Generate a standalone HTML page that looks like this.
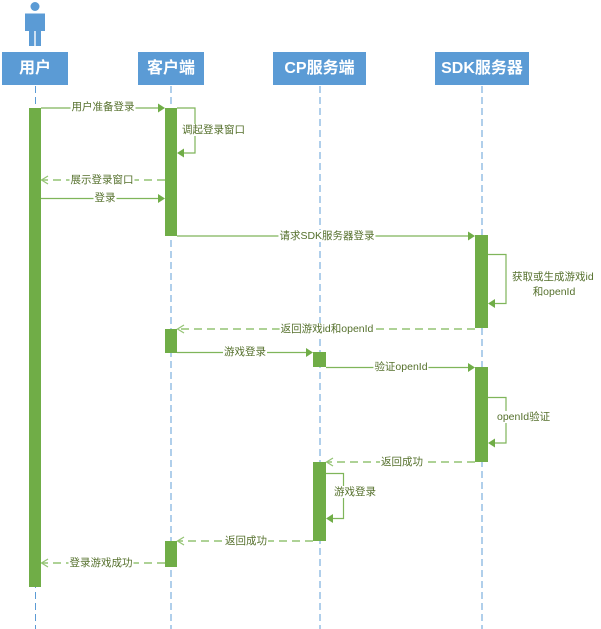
<!DOCTYPE html>
<html><head><meta charset="utf-8">
<style>
html,body{margin:0;padding:0;background:#fff;}
#wrap{position:relative;width:601px;height:629px;overflow:hidden;background:#fff;}
svg{position:absolute;left:0;top:0;}
.l{position:absolute;font-family:"Liberation Sans","Noto Sans CJK SC",sans-serif;font-size:10.5px;line-height:12px;color:#55702c;background:#fff;white-space:nowrap;padding:0 1px;transform:translate(-50%,-50%);}
.ll{transform:translate(0,-50%);}
.h{position:absolute;height:33px;background:#5b9bd5;color:#fff;font-family:"Liberation Sans","Noto Sans CJK SC",sans-serif;font-weight:bold;font-size:16px;line-height:33px;text-align:center;}
</style></head><body><div id="wrap">
<svg width="601" height="629" viewBox="0 0 601 629">
  <!-- actor -->
  <circle cx="35" cy="6.5" r="4.5" fill="#5b9bd5"/>
  <path d="M25 13.5 H45 V31 H41 V46 H35.7 V31 H34.3 V46 H29 V31 H25 Z" fill="#5b9bd5"/>
  <!-- lifelines -->
  <g stroke-dasharray="7 4" fill="none">
    <line x1="35.5" y1="86" x2="35.5" y2="629" stroke="#5b9bd5" stroke-width="1"/>
    <line x1="171" y1="86" x2="171" y2="629" stroke="#9dc3e6" stroke-width="1.6"/>
    <line x1="320" y1="86" x2="320" y2="629" stroke="#9dc3e6" stroke-width="1.6"/>
    <line x1="482" y1="86" x2="482" y2="629" stroke="#9dc3e6" stroke-width="1.6"/>
  </g>
  <!-- solid messages -->
  <g stroke="#7fb55a" stroke-width="1.2" fill="none">
    <line x1="41" y1="108" x2="160" y2="108"/>
    <polyline points="177,108 195,108 195,153 183,153"/>
    <line x1="41" y1="198.5" x2="160" y2="198.5"/>
    <line x1="177" y1="236" x2="470" y2="236"/>
    <polyline points="488,254.5 506,254.5 506,303.5 494,303.5"/>
    <line x1="177" y1="352.5" x2="308" y2="352.5"/>
    <line x1="326" y1="367.5" x2="470" y2="367.5"/>
    <polyline points="488,397.5 506,397.5 506,443 494,443"/>
    <polyline points="326,473.5 343.5,473.5 343.5,518.5 332,518.5"/>
  </g>
  <!-- dashed messages -->
  <g stroke="#93c373" stroke-width="1.5" fill="none" stroke-dasharray="8 5">
    <line x1="165" y1="180" x2="42" y2="180"/>
    <line x1="475" y1="329" x2="178" y2="329"/>
    <line x1="475" y1="462" x2="327" y2="462"/>
    <line x1="313" y1="541" x2="178" y2="541"/>
    <line x1="165" y1="563" x2="42" y2="563"/>
  </g>
  <!-- open arrowheads -->
  <g stroke="#93c373" stroke-width="1.2" fill="none">
    <polyline points="48,176 41.5,180 48,184"/>
    <polyline points="184,325 177.5,329 184,333"/>
    <polyline points="333,458 326.5,462 333,466"/>
    <polyline points="184,537 177.5,541 184,545"/>
    <polyline points="48,559 41.5,563 48,567"/>
  </g>
  <!-- activation bars -->
  <g fill="#70ad47">
    <rect x="29" y="108" width="12" height="479"/>
    <rect x="165" y="108" width="12" height="128"/>
    <rect x="165" y="329" width="12" height="24"/>
    <rect x="165" y="541" width="12" height="26"/>
    <rect x="313" y="352" width="13" height="15"/>
    <rect x="313" y="462" width="13" height="79"/>
    <rect x="475" y="235" width="13" height="93"/>
    <rect x="475" y="367" width="13" height="95"/>
  </g>
  <!-- filled arrowheads -->
  <g fill="#70ad47">
    <polygon points="158,103.5 165,108 158,112.5"/>
    <polygon points="184,148.5 177,153 184,157.5"/>
    <polygon points="158,194 165,198.5 158,203"/>
    <polygon points="468,231.5 475,236 468,240.5"/>
    <polygon points="495,299 488,303.5 495,308"/>
    <polygon points="306,348 313,352.5 306,357"/>
    <polygon points="468,363 475,367.5 468,372"/>
    <polygon points="495,438.5 488,443 495,447.5"/>
    <polygon points="333,514 326,518.5 333,523"/>
  </g>
</svg>
<div class="h" style="left:2px;top:52px;width:66px;">用户</div>
<div class="h" style="left:138px;top:52px;width:66px;">客户端</div>
<div class="h" style="left:273px;top:52px;width:93px;">CP服务端</div>
<div class="h" style="left:435px;top:52px;width:94px;">SDK服务器</div>

<div class="l" style="left:103px;top:107px;">用户准备登录</div>
<div class="l ll" style="left:181px;top:130px;">调起登录窗口</div>
<div class="l" style="left:102px;top:180px;">展示登录窗口</div>
<div class="l" style="left:105px;top:198px;">登录</div>
<div class="l" style="left:327px;top:236px;">请求SDK服务器登录</div>
<div class="l ll" style="left:511px;top:277px;">获取或生成游戏id</div>
<div class="l" style="left:554px;top:292px;">和openId</div>
<div class="l" style="left:327px;top:329px;">返回游戏id和openId</div>
<div class="l" style="left:245px;top:352px;">游戏登录</div>
<div class="l" style="left:401px;top:367px;">验证openId</div>
<div class="l ll" style="left:496px;top:417px;">openId验证</div>
<div class="l" style="left:402px;top:462px;">返回成功</div>
<div class="l ll" style="left:333px;top:492px;">游戏登录</div>
<div class="l" style="left:246px;top:541px;">返回成功</div>
<div class="l" style="left:101px;top:563px;">登录游戏成功</div>
</div></body></html>
